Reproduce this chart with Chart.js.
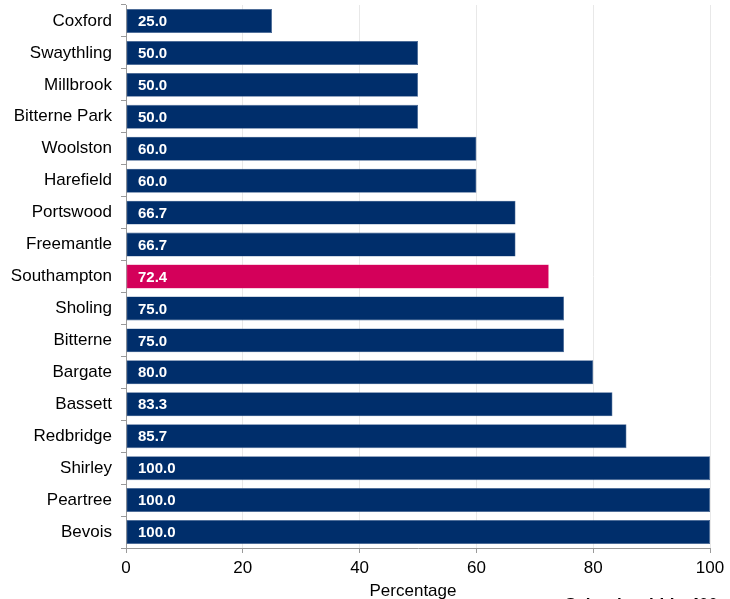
<!DOCTYPE html>
<html>
<head>
<meta charset="utf-8">
<script src="https://cdn.jsdelivr.net/npm/chart.js@4"></script>
<style>
html,body{margin:0;padding:0;background:#fff;}
#wrap{width:730px;height:599px;position:relative;}
</style>
</head>
<body>
<div id="wrap"><canvas id="c" width="730" height="599"></canvas></div>
<script>
const categories = ["Coxford","Swaythling","Millbrook","Bitterne Park","Woolston","Harefield","Portswood","Freemantle","Southampton","Sholing","Bitterne","Bargate","Bassett","Redbridge","Shirley","Peartree","Bevois"];
const values = [25.0,50.0,50.0,50.0,60.0,60.0,66.7,66.7,72.4,75.0,75.0,80.0,83.3,85.7,100.0,100.0,100.0];
const xTicks = [0,20,40,60,80,100];
const axisTitle = "Percentage";
const legendText = "Schools within 400m";
const highlight = "Southampton";

const NAVY = "#002e6b", PINK = "#d4005a";
const FONT = "'Liberation Sans', Arial, sans-serif";

const labelPlugin = {
  id: "valueLabels",
  afterDatasetsDraw(chart) {
    const ctx = chart.ctx;
    const meta = chart.getDatasetMeta(0);
    const x0 = chart.scales.x.getPixelForValue(0);
    ctx.save();
    ctx.fillStyle = "#ffffff";
    ctx.font = "bold 15px " + FONT;
    ctx.textAlign = "left";
    ctx.textBaseline = "middle";
    meta.data.forEach((bar, i) => {
      ctx.fillText(values[i].toFixed(1), x0 + 12, bar.y + 1);
    });
    // axis title
    ctx.fillStyle = "#000";
    ctx.font = "17px " + FONT;
    ctx.textAlign = "center";
    ctx.textBaseline = "middle";
    ctx.fillText(axisTitle, 413, 591);
    // legend (cut off at bottom edge)
    ctx.font = "bold 17px " + FONT;
    ctx.textAlign = "left";
    ctx.textBaseline = "top";
    ctx.fillText(legendText, 565, 597);
    ctx.restore();
  }
};

new Chart(document.getElementById("c"), {
  type: "bar",
  data: {
    labels: categories,
    datasets: [{
      data: values,
      backgroundColor: categories.map(c => c === highlight ? PINK : NAVY),
      borderColor: categories.map(c => c === highlight ? "#e0427f" : "#3d5f8f"),
      borderWidth: 0.6,
      borderSkipped: false,
      barPercentage: 0.75,
      categoryPercentage: 1.0
    }]
  },
  options: {
    indexAxis: "y",
    responsive: false,
    animation: false,
    devicePixelRatio: 1,
    layout: { padding: { top: 5, right: 20, left: 0, bottom: 0 } },
    plugins: { legend: { display: false }, tooltip: { enabled: false } },
    scales: {
      x: {
        min: 0, max: 100,
        afterBuildTicks(axis) { axis.ticks = xTicks.map(v => ({ value: v })); },
        afterFit(axis) { axis.height = 51; axis.paddingLeft = 0; axis.paddingRight = 0; },
        grid: { color: "#e8e8e8", tickColor: "#9a9a9a", tickLength: 5, drawOnChartArea: true },
        border: { color: "#9a9a9a" },
        ticks: { color: "#000", font: { size: 17, family: FONT }, padding: 5, maxRotation: 0 },
        title: { display: false }
      },
      y: {
        afterFit(axis) { axis.width = 126; axis.paddingTop = 0; axis.paddingBottom = 0; },
        grid: { offset: true, drawOnChartArea: false, color: "#9a9a9a", tickLength: 5 },
        border: { color: "#9a9a9a" },
        ticks: { color: "#000", font: { size: 17, family: FONT }, padding: 9, autoSkip: false }
      }
    }
  },
  plugins: [labelPlugin]
});
</script>
</body>
</html>
